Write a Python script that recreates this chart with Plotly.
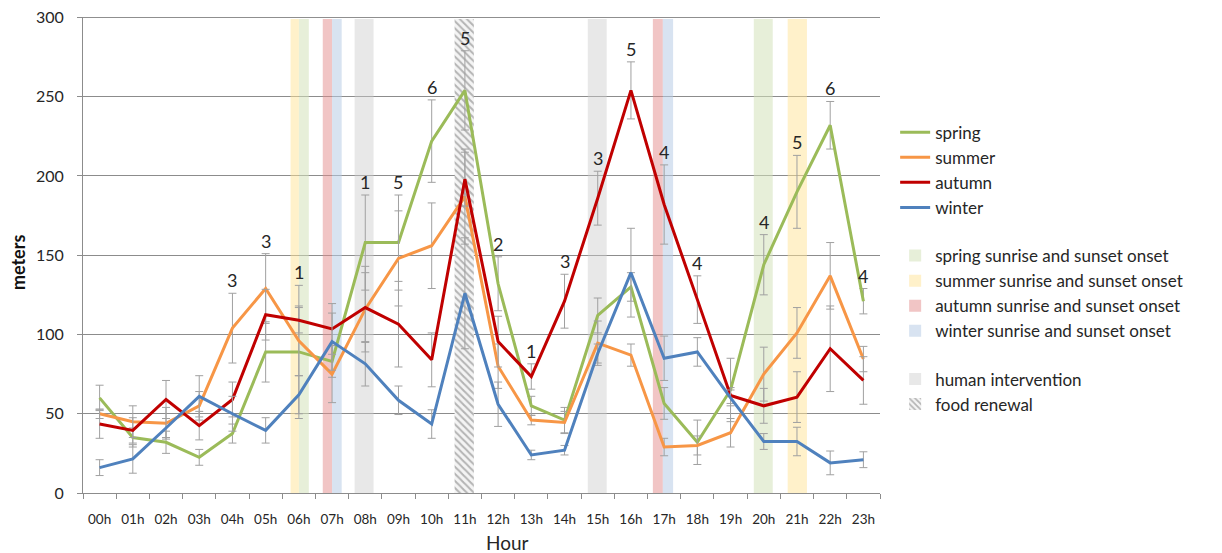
import plotly.graph_objects as go

# ---------------- data ----------------
hours = ["00h", "01h", "02h", "03h", "04h", "05h", "06h", "07h", "08h", "09h", "10h", "11h",
         "12h", "13h", "14h", "15h", "16h", "17h", "18h", "19h", "20h", "21h", "22h", "23h"]

spring = [60, 35, 32, 22.5, 37.5, 89, 89, 83, 158, 158, 222, 254,
          132, 55, 46, 112, 130, 56.5, 32, 65, 144, 190, 232, 121]
summer = [50, 45, 44, 55, 104, 129, 96, 75, 116, 148, 156, 187,
          80, 46, 44.5, 94.5, 87, 29, 30, 38, 75, 101, 137, 84.5]
autumn = [43.5, 39.5, 59, 42.5, 59, 112.5, 109, 103.5, 117, 106.5, 84, 198,
          95.5, 73.5, 121, 186, 254, 182, 122, 61.5, 55, 60.5, 91, 71]
winter = [16, 21.5, 41, 61, 50, 39.5, 62, 95.5, 81.5, 58.5, 43.5, 126,
          56, 24, 27, 88, 139, 85, 89, 60, 32.5, 32.5, 19, 21]

spring_err = [8, 6, 7, 5, 6, 19, 42, 10, 30, 30, 26, 25, 17, 6, 8, 11, 9, 10, 14, 20, 19, 23, 15, 8]
summer_err = [3, 10, 10, 9, 22, 22, 22, 18, 27, 30, 27, 30, 14, 3, 7, 14, 7, 5.5, 6, 9, 17, 16, 21, 8]
autumn_err = [9, 8, 12, 9, 11, 16, 8, 16, 22, 27, 17, 17, 16, 8, 17, 17, 18, 25, 15, 5, 11, 16, 27, 15]
winter_err = [5, 9, 6, 13, 11, 8, 12, 18, 14, 9, 9, 35, 14, 3, 3, 6, 28, 14, 9, 5, 5, 9, 7.5, 5]

count_hours = ["04h", "05h", "06h", "08h", "09h", "10h", "11h", "12h", "13h",
               "14h", "15h", "16h", "17h", "18h", "20h", "21h", "22h", "23h"]
count_n = [3, 3, 1, 1, 5, 6, 5, 2, 1, 3, 3, 5, 4, 4, 4, 5, 6, 4]

y_ticks = [0, 50, 100, 150, 200, 250, 300]

# onset periods (decimal hours: start, end)
spring_onset = [(6.0, 6.3), (19.7, 20.27)]
summer_onset = [(5.75, 6.0), (20.72, 21.3)]
autumn_onset = [(6.72, 7.0), (16.66, 16.96)]
winter_onset = [(7.0, 7.29), (16.96, 17.27)]
human_intervention = [(7.68, 8.25), (14.7, 15.27)]
food_renewal = [(10.69, 11.27)]

Y_MAX = 300
FONT = "Lato, Carlito, Calibri, sans-serif"
TXT = "#262626"
GRAY = "#8c8c8c"
ERR = "#a0a0a0"

fig = go.Figure()


def band_trace(spans, name, color, rank, group, pattern=None):
    xs, offs, ws = [], [], []
    for s, e in spans:
        c = int(round((s + e) / 2))
        xs.append(hours[c])
        offs.append(s - c)
        ws.append(e - s)
    marker = dict(color=color, line=dict(width=0))
    if pattern:
        marker["pattern"] = pattern
    return go.Bar(x=xs, y=[Y_MAX - 1] * len(xs), base=0, offset=offs, width=ws,
                  name=name, marker=marker, legendrank=rank, legendgroup=group,
                  hoverinfo="skip")


fig.add_trace(band_trace(spring_onset, "spring sunrise and sunset onset", "rgba(212,226,186,0.55)", 5, "g2"))
fig.add_trace(band_trace(summer_onset, "summer sunrise and sunset onset", "rgba(255,228,150,0.5)", 6, "g2"))
fig.add_trace(band_trace(autumn_onset, "autumn sunrise and sunset onset", "rgba(228,140,140,0.5)", 7, "g2"))
fig.add_trace(band_trace(winter_onset, "winter sunrise and sunset onset", "rgba(184,204,230,0.55)", 8, "g2"))
fig.add_trace(band_trace(human_intervention, "human intervention", "rgba(205,205,205,0.45)", 9, "g3"))
fig.add_trace(band_trace(food_renewal, "food renewal", "#f4f4f4", 10, "g3",
                         pattern=dict(shape="\\", fgcolor="#b4b4b4", bgcolor="#f4f4f4",
                                      size=5, solidity=0.4, fillmode="replace")))

series = [("spring", spring, spring_err, "#9bbb59", 1),
          ("summer", summer, summer_err, "#f79646", 2),
          ("autumn", autumn, autumn_err, "#c00000", 3),
          ("winter", winter, winter_err, "#4f81bd", 4)]
for name, vals, errs, col, rank in series:
    fig.add_trace(go.Scatter(
        x=hours, y=vals, mode="lines", name=name,
        line=dict(color=col, width=3),
        error_y=dict(type="data", array=errs, visible=True, color=ERR, thickness=1, width=4),
        legendrank=rank, legendgroup="g1"))

# count labels above highest error bar
tops = [max(v + e for v, e in ((spring[i], spring_err[i]), (summer[i], summer_err[i]),
                               (autumn[i], autumn_err[i]), (winter[i], winter_err[i])))
        for i in range(len(hours))]
for h, n in zip(count_hours, count_n):
    fig.add_annotation(x=h, y=tops[hours.index(h)], text=str(n), showarrow=False,
                       yanchor="bottom", yshift=0, font=dict(size=18, color=TXT, family=FONT))

fig.add_annotation(text="<b>meters</b>", xref="paper", yref="paper", x=-0.0816, y=0.485,
                   textangle=-90, showarrow=False, xanchor="center", yanchor="middle",
                   font=dict(size=18, color="#111", family=FONT))
fig.add_annotation(text="Hour", xref="paper", yref="paper", x=0.532, y=-0.105,
                   showarrow=False, xanchor="center", yanchor="middle",
                   font=dict(size=19, color=TXT, family=FONT))

# top gridline (at the axis maximum)
fig.add_shape(type="line", xref="paper", yref="y", x0=0, x1=1, y0=Y_MAX, y1=Y_MAX,
              line=dict(color=GRAY, width=1), layer="below")

fig.update_layout(
    width=1214, height=545,
    margin=dict(l=75, r=342, t=9, b=60, autoexpand=False),
    paper_bgcolor="white", plot_bgcolor="white",
    barmode="overlay",
    font=dict(family=FONT, color=TXT),
    showlegend=True,
    legend=dict(x=1.019, y=0.795, xanchor="left", yanchor="top",
                traceorder="grouped", tracegroupgap=23,
                font=dict(size=17, color=TXT, family=FONT),
                bgcolor="rgba(0,0,0,0)"),
    xaxis=dict(type="category", categoryorder="array", categoryarray=hours,
               range=[-0.5, 23.5], tickson="boundaries", ticks="outside", ticklen=5,
               tickcolor=GRAY, showline=True, linecolor=GRAY, linewidth=1,
               showgrid=False, ticklabelstandoff=14, automargin=False,
               tickfont=dict(size=13.5, color=TXT, family=FONT)),
    yaxis=dict(range=[0, Y_MAX + 0.3], tickmode="array", tickvals=y_ticks,
               showgrid=True, gridcolor=GRAY, gridwidth=1, ticklabeloverflow="allow",
               showline=True, linecolor=GRAY, ticks="outside", ticklen=5, tickcolor=GRAY,
               zeroline=False, ticklabelstandoff=10, automargin=False,
               tickfont=dict(size=16, color=TXT, family=FONT)),
)

fig.write_html("out.html")
